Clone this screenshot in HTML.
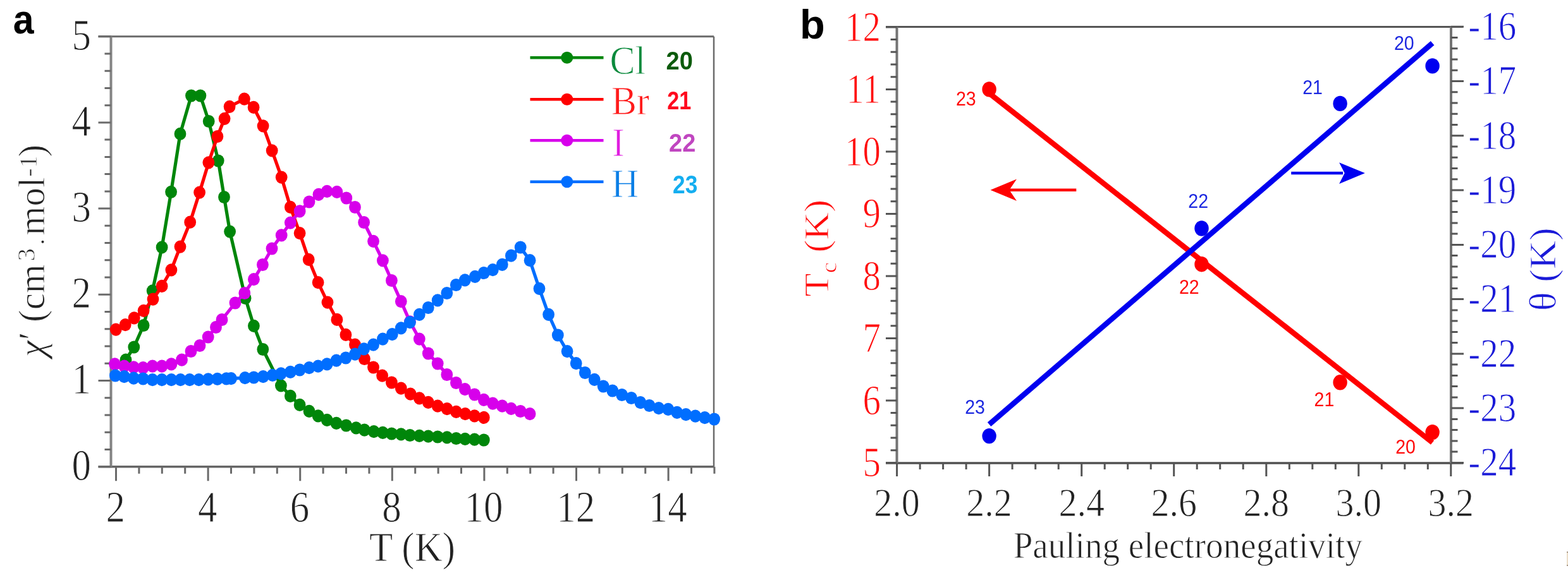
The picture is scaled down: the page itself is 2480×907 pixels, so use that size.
<!DOCTYPE html>
<html><head><meta charset="utf-8"><title>Figure</title>
<style>
html,body{margin:0;padding:0;background:#fff;}
body{width:2480px;height:907px;overflow:hidden;}
svg{display:block;}
#w{width:2480px;height:907px;}
.serif{font-family:"Liberation Serif","Times New Roman",serif;stroke:#fff;stroke-width:0.9px;}
.sans{font-family:"Liberation Sans",Arial,sans-serif;}
</style></head><body>
<div id="w"><svg width="2480" height="907" viewBox="0 0 2480 907">
<rect width="2480" height="907" fill="#fff"/>

<path d="M1129 57.7V738.7" stroke="#6a6a6a" stroke-width="2.5"/>
<path d="M155.5 57.7H1129" stroke="#6a6a6a" stroke-width="3"/>
<path d="M155.5 738.7H1129" stroke="#666" stroke-width="3.5"/>
<path d="M175.5 57.7V738.7" stroke="#848484" stroke-width="4"/>
<path d="M155.5 738.7H175.5 M165.5 711.5H175.5 M165.5 684.2H175.5 M165.5 657H175.5 M165.5 629.7H175.5 M155.5 602.5H175.5 M165.5 575.3H175.5 M165.5 548H175.5 M165.5 520.8H175.5 M165.5 493.5H175.5 M155.5 466.3H175.5 M165.5 439.1H175.5 M165.5 411.8H175.5 M165.5 384.6H175.5 M165.5 357.3H175.5 M155.5 330.1H175.5 M165.5 302.9H175.5 M165.5 275.6H175.5 M165.5 248.4H175.5 M165.5 221.1H175.5 M155.5 193.9H175.5 M165.5 166.7H175.5 M165.5 139.4H175.5 M165.5 112.2H175.5 M165.5 84.9H175.5 M155.5 57.7H175.5 M183.5 738.7V761.2 M219.9 738.7V749.7 M256.3 738.7V749.7 M292.7 738.7V749.7 M329.1 738.7V761.2 M365.5 738.7V749.7 M401.9 738.7V749.7 M438.3 738.7V749.7 M474.7 738.7V761.2 M511.1 738.7V749.7 M547.5 738.7V749.7 M583.9 738.7V749.7 M620.3 738.7V761.2 M656.7 738.7V749.7 M693.1 738.7V749.7 M729.5 738.7V749.7 M765.9 738.7V761.2 M802.3 738.7V749.7 M838.7 738.7V749.7 M875.1 738.7V749.7 M911.5 738.7V761.2 M947.9 738.7V749.7 M984.3 738.7V749.7 M1020.7 738.7V749.7 M1057.1 738.7V761.2 M1093.5 738.7V749.7 M1129.9 738.7V749.7" stroke="#6a6a6a" stroke-width="3"/>
<text class="serif" transform="translate(144 759.5) scale(1.0 1.13)" font-size="61" fill="#222" text-anchor="end">0</text>
<text class="serif" transform="translate(144 623.3) scale(1.0 1.13)" font-size="61" fill="#222" text-anchor="end">1</text>
<text class="serif" transform="translate(144 487.1) scale(1.0 1.13)" font-size="61" fill="#222" text-anchor="end">2</text>
<text class="serif" transform="translate(144 350.9) scale(1.0 1.13)" font-size="61" fill="#222" text-anchor="end">3</text>
<text class="serif" transform="translate(144 214.7) scale(1.0 1.13)" font-size="61" fill="#222" text-anchor="end">4</text>
<text class="serif" transform="translate(144 78.5) scale(1.0 1.13)" font-size="61" fill="#222" text-anchor="end">5</text>
<text class="serif" transform="translate(182.7 826) scale(1.0 1.13)" font-size="61" fill="#222" text-anchor="middle">2</text>
<text class="serif" transform="translate(328.3 826) scale(1.0 1.13)" font-size="61" fill="#222" text-anchor="middle">4</text>
<text class="serif" transform="translate(473.9 826) scale(1.0 1.13)" font-size="61" fill="#222" text-anchor="middle">6</text>
<text class="serif" transform="translate(619.5 826) scale(1.0 1.13)" font-size="61" fill="#222" text-anchor="middle">8</text>
<text class="serif" transform="translate(765.1 826) scale(1.0 1.13)" font-size="61" fill="#222" text-anchor="middle">10</text>
<text class="serif" transform="translate(910.7 826) scale(1.0 1.13)" font-size="61" fill="#222" text-anchor="middle">12</text>
<text class="serif" transform="translate(1056.3 826) scale(1.0 1.13)" font-size="61" fill="#222" text-anchor="middle">14</text>
<text class="serif" transform="translate(652 888) scale(1.0 1.08)" font-size="61" fill="#222" text-anchor="middle">T (K)</text>
<text class="serif" transform="translate(69.7 565) rotate(-90)" font-size="59" fill="#222" font-style="italic">&#967;</text>
<text class="serif" transform="translate(69.7 538) rotate(-90)" font-size="59" fill="#222">&#8242;</text>
<text class="serif" transform="translate(69.7 510) rotate(-90)" font-size="59" fill="#222">(cm</text>
<text class="serif" transform="translate(55 413.5) rotate(-90)" font-size="41" fill="#222">3</text>
<text class="serif" transform="translate(69.7 388) rotate(-90)" font-size="42" fill="#222">.</text>
<text class="serif" transform="translate(69.7 372.5) rotate(-90)" font-size="59" fill="#222">mol</text>
<text class="serif" transform="translate(57.5 280) rotate(-90)" font-size="41" fill="#222">-1</text>
<text class="serif" transform="translate(69.7 248.5) rotate(-90)" font-size="59" fill="#222">)</text>
<text class="sans" transform="translate(20.8 52.8) scale(1.0 1.11)" font-size="59" fill="#000" font-weight="bold">a</text>
<path d="M199 569.7 L211.8 549.5 L227.1 515 L241.2 460.4 L256.1 391.4 L270.6 303.8 L285 211.9 L302.5 151.5 L316.9 151.5 L330.2 192 L345.2 254.5 L354.5 312 L363.6 366.6 L388.1 472 L401.4 515.8 L415.8 553 L444.4 610.3 L459.3 626.8 L474.1 640.9 L489 650.8 L503.1 658.3 L517.2 664.9 L532 669.9 L547.5 673.5 L563.2 677.4 L576.4 680.7 L591.3 683.2 L605.4 684.9 L619.4 686.5 L634.3 687.3 L648.4 689 L663.3 689.8 L677.3 690.6 L692.2 691.5 L707 692.3 L721.5 694 L735.6 694.8 L750.5 695.6 L765.3 696.5" fill="none" stroke="#00860a" stroke-width="5.2" stroke-linejoin="round"/>
<g fill="#00860a"><ellipse cx="199" cy="569.7" rx="9.4" ry="10.1"/><ellipse cx="211.8" cy="549.5" rx="9.4" ry="10.1"/><ellipse cx="227.1" cy="515" rx="9.4" ry="10.1"/><ellipse cx="241.2" cy="460.4" rx="9.4" ry="10.1"/><ellipse cx="256.1" cy="391.4" rx="9.4" ry="10.1"/><ellipse cx="270.6" cy="303.8" rx="9.4" ry="10.1"/><ellipse cx="285" cy="211.9" rx="9.4" ry="10.1"/><ellipse cx="302.5" cy="151.5" rx="9.4" ry="10.1"/><ellipse cx="316.9" cy="151.5" rx="9.4" ry="10.1"/><ellipse cx="330.2" cy="192" rx="9.4" ry="10.1"/><ellipse cx="345.2" cy="254.5" rx="9.4" ry="10.1"/><ellipse cx="354.5" cy="312" rx="9.4" ry="10.1"/><ellipse cx="363.6" cy="366.6" rx="9.4" ry="10.1"/><ellipse cx="388.1" cy="472" rx="9.4" ry="10.1"/><ellipse cx="401.4" cy="515.8" rx="9.4" ry="10.1"/><ellipse cx="415.8" cy="553" rx="9.4" ry="10.1"/><ellipse cx="444.4" cy="610.3" rx="9.4" ry="10.1"/><ellipse cx="459.3" cy="626.8" rx="9.4" ry="10.1"/><ellipse cx="474.1" cy="640.9" rx="9.4" ry="10.1"/><ellipse cx="489" cy="650.8" rx="9.4" ry="10.1"/><ellipse cx="503.1" cy="658.3" rx="9.4" ry="10.1"/><ellipse cx="517.2" cy="664.9" rx="9.4" ry="10.1"/><ellipse cx="532" cy="669.9" rx="9.4" ry="10.1"/><ellipse cx="547.5" cy="673.5" rx="9.4" ry="10.1"/><ellipse cx="563.2" cy="677.4" rx="9.4" ry="10.1"/><ellipse cx="576.4" cy="680.7" rx="9.4" ry="10.1"/><ellipse cx="591.3" cy="683.2" rx="9.4" ry="10.1"/><ellipse cx="605.4" cy="684.9" rx="9.4" ry="10.1"/><ellipse cx="619.4" cy="686.5" rx="9.4" ry="10.1"/><ellipse cx="634.3" cy="687.3" rx="9.4" ry="10.1"/><ellipse cx="648.4" cy="689" rx="9.4" ry="10.1"/><ellipse cx="663.3" cy="689.8" rx="9.4" ry="10.1"/><ellipse cx="677.3" cy="690.6" rx="9.4" ry="10.1"/><ellipse cx="692.2" cy="691.5" rx="9.4" ry="10.1"/><ellipse cx="707" cy="692.3" rx="9.4" ry="10.1"/><ellipse cx="721.5" cy="694" rx="9.4" ry="10.1"/><ellipse cx="735.6" cy="694.8" rx="9.4" ry="10.1"/><ellipse cx="750.5" cy="695.6" rx="9.4" ry="10.1"/><ellipse cx="765.3" cy="696.5" rx="9.4" ry="10.1"/></g>
<path d="M183.3 521.6 L198.2 514.1 L212.2 503.4 L227.1 491.8 L242 473.6 L256.1 452.9 L270.9 427.3 L285 390.6 L300.7 351.7 L315.6 304.6 L329.9 257.4 L343.9 216 L355.1 187.8 L363.1 168.8 L386.4 156.7 L401.1 169.9 L416.1 199.3 L430.2 238.4 L445.2 280.6 L459.3 327.8 L474.1 369.1 L488.2 410.8 L503.1 447.1 L518 478.6 L532.9 505.9 L546.9 529.9 L561.5 545.7 L576.4 568 L590.5 581.5 L604.6 594.7 L619.4 605.5 L634.3 614.6 L649.2 623.7 L663.3 630.3 L677.3 636.9 L692.2 642.7 L707 647.2 L721.5 651.8 L735.8 655.1 L750.5 658.4 L765.3 660.9" fill="none" stroke="#ff0000" stroke-width="5.2" stroke-linejoin="round"/>
<g fill="#ff0000"><ellipse cx="183.3" cy="521.6" rx="9.4" ry="10.1"/><ellipse cx="198.2" cy="514.1" rx="9.4" ry="10.1"/><ellipse cx="212.2" cy="503.4" rx="9.4" ry="10.1"/><ellipse cx="227.1" cy="491.8" rx="9.4" ry="10.1"/><ellipse cx="242" cy="473.6" rx="9.4" ry="10.1"/><ellipse cx="256.1" cy="452.9" rx="9.4" ry="10.1"/><ellipse cx="270.9" cy="427.3" rx="9.4" ry="10.1"/><ellipse cx="285" cy="390.6" rx="9.4" ry="10.1"/><ellipse cx="300.7" cy="351.7" rx="9.4" ry="10.1"/><ellipse cx="315.6" cy="304.6" rx="9.4" ry="10.1"/><ellipse cx="329.9" cy="257.4" rx="9.4" ry="10.1"/><ellipse cx="343.9" cy="216" rx="9.4" ry="10.1"/><ellipse cx="355.1" cy="187.8" rx="9.4" ry="10.1"/><ellipse cx="363.1" cy="168.8" rx="9.4" ry="10.1"/><ellipse cx="386.4" cy="156.7" rx="9.4" ry="10.1"/><ellipse cx="401.1" cy="169.9" rx="9.4" ry="10.1"/><ellipse cx="416.1" cy="199.3" rx="9.4" ry="10.1"/><ellipse cx="430.2" cy="238.4" rx="9.4" ry="10.1"/><ellipse cx="445.2" cy="280.6" rx="9.4" ry="10.1"/><ellipse cx="459.3" cy="327.8" rx="9.4" ry="10.1"/><ellipse cx="474.1" cy="369.1" rx="9.4" ry="10.1"/><ellipse cx="488.2" cy="410.8" rx="9.4" ry="10.1"/><ellipse cx="503.1" cy="447.1" rx="9.4" ry="10.1"/><ellipse cx="518" cy="478.6" rx="9.4" ry="10.1"/><ellipse cx="532.9" cy="505.9" rx="9.4" ry="10.1"/><ellipse cx="546.9" cy="529.9" rx="9.4" ry="10.1"/><ellipse cx="561.5" cy="545.7" rx="9.4" ry="10.1"/><ellipse cx="576.4" cy="568" rx="9.4" ry="10.1"/><ellipse cx="590.5" cy="581.5" rx="9.4" ry="10.1"/><ellipse cx="604.6" cy="594.7" rx="9.4" ry="10.1"/><ellipse cx="619.4" cy="605.5" rx="9.4" ry="10.1"/><ellipse cx="634.3" cy="614.6" rx="9.4" ry="10.1"/><ellipse cx="649.2" cy="623.7" rx="9.4" ry="10.1"/><ellipse cx="663.3" cy="630.3" rx="9.4" ry="10.1"/><ellipse cx="677.3" cy="636.9" rx="9.4" ry="10.1"/><ellipse cx="692.2" cy="642.7" rx="9.4" ry="10.1"/><ellipse cx="707" cy="647.2" rx="9.4" ry="10.1"/><ellipse cx="721.5" cy="651.8" rx="9.4" ry="10.1"/><ellipse cx="735.8" cy="655.1" rx="9.4" ry="10.1"/><ellipse cx="750.5" cy="658.4" rx="9.4" ry="10.1"/><ellipse cx="765.3" cy="660.9" rx="9.4" ry="10.1"/></g>
<path d="M181.6 576.3 L196.5 579.6 L211.4 581.3 L226.3 582.1 L241.2 579.6 L256.1 579.6 L271 576.3 L287.5 569.7 L302 556 L316 547 L329.2 533.5 L341.5 518 L351 506 L372 479.5 L386.8 464 L401.4 442.2 L415.4 419 L430 393.5 L445.2 372.4 L459.3 352.6 L474.1 334.4 L489 319.5 L503.9 307.9 L517.2 302.9 L532.9 303.8 L547.8 313.5 L561.5 328 L575.6 352 L590.5 381.8 L605.4 412.4 L619.4 444 L634.3 477.1 L648.4 509.3 L663.3 536.6 L677.3 559.5 L692.2 575.5 L706.8 593 L721.4 606 L735.4 616.2 L750.5 624.5 L765.3 632.8 L779.4 638.6 L794.3 642.7 L808.4 646.8 L823.2 651 L838.1 655.1" fill="none" stroke="#d700eb" stroke-width="5.2" stroke-linejoin="round"/>
<g fill="#d700eb"><ellipse cx="181.6" cy="576.3" rx="9.4" ry="10.1"/><ellipse cx="196.5" cy="579.6" rx="9.4" ry="10.1"/><ellipse cx="211.4" cy="581.3" rx="9.4" ry="10.1"/><ellipse cx="226.3" cy="582.1" rx="9.4" ry="10.1"/><ellipse cx="241.2" cy="579.6" rx="9.4" ry="10.1"/><ellipse cx="256.1" cy="579.6" rx="9.4" ry="10.1"/><ellipse cx="271" cy="576.3" rx="9.4" ry="10.1"/><ellipse cx="287.5" cy="569.7" rx="9.4" ry="10.1"/><ellipse cx="302" cy="556" rx="9.4" ry="10.1"/><ellipse cx="316" cy="547" rx="9.4" ry="10.1"/><ellipse cx="329.2" cy="533.5" rx="9.4" ry="10.1"/><ellipse cx="341.5" cy="518" rx="9.4" ry="10.1"/><ellipse cx="351" cy="506" rx="9.4" ry="10.1"/><ellipse cx="372" cy="479.5" rx="9.4" ry="10.1"/><ellipse cx="386.8" cy="464" rx="9.4" ry="10.1"/><ellipse cx="401.4" cy="442.2" rx="9.4" ry="10.1"/><ellipse cx="415.4" cy="419" rx="9.4" ry="10.1"/><ellipse cx="430" cy="393.5" rx="9.4" ry="10.1"/><ellipse cx="445.2" cy="372.4" rx="9.4" ry="10.1"/><ellipse cx="459.3" cy="352.6" rx="9.4" ry="10.1"/><ellipse cx="474.1" cy="334.4" rx="9.4" ry="10.1"/><ellipse cx="489" cy="319.5" rx="9.4" ry="10.1"/><ellipse cx="503.9" cy="307.9" rx="9.4" ry="10.1"/><ellipse cx="517.2" cy="302.9" rx="9.4" ry="10.1"/><ellipse cx="532.9" cy="303.8" rx="9.4" ry="10.1"/><ellipse cx="547.8" cy="313.5" rx="9.4" ry="10.1"/><ellipse cx="561.5" cy="328" rx="9.4" ry="10.1"/><ellipse cx="575.6" cy="352" rx="9.4" ry="10.1"/><ellipse cx="590.5" cy="381.8" rx="9.4" ry="10.1"/><ellipse cx="605.4" cy="412.4" rx="9.4" ry="10.1"/><ellipse cx="619.4" cy="444" rx="9.4" ry="10.1"/><ellipse cx="634.3" cy="477.1" rx="9.4" ry="10.1"/><ellipse cx="648.4" cy="509.3" rx="9.4" ry="10.1"/><ellipse cx="663.3" cy="536.6" rx="9.4" ry="10.1"/><ellipse cx="677.3" cy="559.5" rx="9.4" ry="10.1"/><ellipse cx="692.2" cy="575.5" rx="9.4" ry="10.1"/><ellipse cx="706.8" cy="593" rx="9.4" ry="10.1"/><ellipse cx="721.4" cy="606" rx="9.4" ry="10.1"/><ellipse cx="735.4" cy="616.2" rx="9.4" ry="10.1"/><ellipse cx="750.5" cy="624.5" rx="9.4" ry="10.1"/><ellipse cx="765.3" cy="632.8" rx="9.4" ry="10.1"/><ellipse cx="779.4" cy="638.6" rx="9.4" ry="10.1"/><ellipse cx="794.3" cy="642.7" rx="9.4" ry="10.1"/><ellipse cx="808.4" cy="646.8" rx="9.4" ry="10.1"/><ellipse cx="823.2" cy="651" rx="9.4" ry="10.1"/><ellipse cx="838.1" cy="655.1" rx="9.4" ry="10.1"/></g>
<path d="M182.4 594.5 L196.5 596.2 L211.4 598.7 L226.3 599.5 L241.2 601.1 L256.1 601.1 L271 601.1 L285.5 601.1 L300 601.1 L314.5 601.1 L329.3 600.4 L343.8 599.8 L358 599.4 L365.5 599.1 L387.5 598.2 L401.4 597.5 L416.2 596.2 L431.1 593.8 L444.4 591.3 L459.3 588.8 L474.1 585.5 L489 582.2 L503.1 579.7 L517.2 576.4 L532 570.6 L546.9 566.5 L561.5 560.6 L575.6 552.3 L590.5 545.7 L605.4 536.6 L620.3 529.2 L634.3 519.3 L648.4 510.2 L663.3 497.8 L677.3 487 L692.2 475.4 L706.8 464 L721.3 451 L735.4 443.4 L751.3 437.8 L765.3 432 L779.4 427.1 L794.3 418.8 L808.4 404.7 L823.2 391.5 L838.1 412.2 L853 456.8 L867.6 497.8 L882.3 530.5 L897.1 556.1 L911.2 575.1 L925.3 590 L940.2 600.8 L954.2 611.5 L968.7 618.5 L983.6 625 L998.5 630 L1012.9 637.1 L1027 642 L1041.9 646.2 L1056.8 647.8 L1070.8 652.8 L1084.9 656.1 L1099.8 658.6 L1114.7 661.1 L1129.6 663.5" fill="none" stroke="#006eff" stroke-width="5.2" stroke-linejoin="round"/>
<g fill="#006eff"><ellipse cx="182.4" cy="594.5" rx="9.4" ry="10.1"/><ellipse cx="196.5" cy="596.2" rx="9.4" ry="10.1"/><ellipse cx="211.4" cy="598.7" rx="9.4" ry="10.1"/><ellipse cx="226.3" cy="599.5" rx="9.4" ry="10.1"/><ellipse cx="241.2" cy="601.1" rx="9.4" ry="10.1"/><ellipse cx="256.1" cy="601.1" rx="9.4" ry="10.1"/><ellipse cx="271" cy="601.1" rx="9.4" ry="10.1"/><ellipse cx="285.5" cy="601.1" rx="9.4" ry="10.1"/><ellipse cx="300" cy="601.1" rx="9.4" ry="10.1"/><ellipse cx="314.5" cy="601.1" rx="9.4" ry="10.1"/><ellipse cx="329.3" cy="600.4" rx="9.4" ry="10.1"/><ellipse cx="343.8" cy="599.8" rx="9.4" ry="10.1"/><ellipse cx="358" cy="599.4" rx="9.4" ry="10.1"/><ellipse cx="365.5" cy="599.1" rx="9.4" ry="10.1"/><ellipse cx="387.5" cy="598.2" rx="9.4" ry="10.1"/><ellipse cx="401.4" cy="597.5" rx="9.4" ry="10.1"/><ellipse cx="416.2" cy="596.2" rx="9.4" ry="10.1"/><ellipse cx="431.1" cy="593.8" rx="9.4" ry="10.1"/><ellipse cx="444.4" cy="591.3" rx="9.4" ry="10.1"/><ellipse cx="459.3" cy="588.8" rx="9.4" ry="10.1"/><ellipse cx="474.1" cy="585.5" rx="9.4" ry="10.1"/><ellipse cx="489" cy="582.2" rx="9.4" ry="10.1"/><ellipse cx="503.1" cy="579.7" rx="9.4" ry="10.1"/><ellipse cx="517.2" cy="576.4" rx="9.4" ry="10.1"/><ellipse cx="532" cy="570.6" rx="9.4" ry="10.1"/><ellipse cx="546.9" cy="566.5" rx="9.4" ry="10.1"/><ellipse cx="561.5" cy="560.6" rx="9.4" ry="10.1"/><ellipse cx="575.6" cy="552.3" rx="9.4" ry="10.1"/><ellipse cx="590.5" cy="545.7" rx="9.4" ry="10.1"/><ellipse cx="605.4" cy="536.6" rx="9.4" ry="10.1"/><ellipse cx="620.3" cy="529.2" rx="9.4" ry="10.1"/><ellipse cx="634.3" cy="519.3" rx="9.4" ry="10.1"/><ellipse cx="648.4" cy="510.2" rx="9.4" ry="10.1"/><ellipse cx="663.3" cy="497.8" rx="9.4" ry="10.1"/><ellipse cx="677.3" cy="487" rx="9.4" ry="10.1"/><ellipse cx="692.2" cy="475.4" rx="9.4" ry="10.1"/><ellipse cx="706.8" cy="464" rx="9.4" ry="10.1"/><ellipse cx="721.3" cy="451" rx="9.4" ry="10.1"/><ellipse cx="735.4" cy="443.4" rx="9.4" ry="10.1"/><ellipse cx="751.3" cy="437.8" rx="9.4" ry="10.1"/><ellipse cx="765.3" cy="432" rx="9.4" ry="10.1"/><ellipse cx="779.4" cy="427.1" rx="9.4" ry="10.1"/><ellipse cx="794.3" cy="418.8" rx="9.4" ry="10.1"/><ellipse cx="808.4" cy="404.7" rx="9.4" ry="10.1"/><ellipse cx="823.2" cy="391.5" rx="9.4" ry="10.1"/><ellipse cx="838.1" cy="412.2" rx="9.4" ry="10.1"/><ellipse cx="853" cy="456.8" rx="9.4" ry="10.1"/><ellipse cx="867.6" cy="497.8" rx="9.4" ry="10.1"/><ellipse cx="882.3" cy="530.5" rx="9.4" ry="10.1"/><ellipse cx="897.1" cy="556.1" rx="9.4" ry="10.1"/><ellipse cx="911.2" cy="575.1" rx="9.4" ry="10.1"/><ellipse cx="925.3" cy="590" rx="9.4" ry="10.1"/><ellipse cx="940.2" cy="600.8" rx="9.4" ry="10.1"/><ellipse cx="954.2" cy="611.5" rx="9.4" ry="10.1"/><ellipse cx="968.7" cy="618.5" rx="9.4" ry="10.1"/><ellipse cx="983.6" cy="625" rx="9.4" ry="10.1"/><ellipse cx="998.5" cy="630" rx="9.4" ry="10.1"/><ellipse cx="1012.9" cy="637.1" rx="9.4" ry="10.1"/><ellipse cx="1027" cy="642" rx="9.4" ry="10.1"/><ellipse cx="1041.9" cy="646.2" rx="9.4" ry="10.1"/><ellipse cx="1056.8" cy="647.8" rx="9.4" ry="10.1"/><ellipse cx="1070.8" cy="652.8" rx="9.4" ry="10.1"/><ellipse cx="1084.9" cy="656.1" rx="9.4" ry="10.1"/><ellipse cx="1099.8" cy="658.6" rx="9.4" ry="10.1"/><ellipse cx="1114.7" cy="661.1" rx="9.4" ry="10.1"/><ellipse cx="1129.6" cy="663.5" rx="9.4" ry="10.1"/></g>
<path d="M838.5 91.3H954.5" stroke="#00860a" stroke-width="4.5"/>
<circle cx="896.8" cy="91.3" r="9.5" fill="#00860a"/>
<text class="serif" transform="translate(964.5 116.8) scale(1.0 1.07)" font-size="60" fill="#0a8a3c">Cl</text>
<text class="sans" transform="translate(1053.5 109.8) scale(1.0 1.05)" font-size="38" fill="#0b5a0b" font-weight="bold">20</text>
<path d="M838.5 157.3H954.5" stroke="#ff0000" stroke-width="4.5"/>
<circle cx="896.8" cy="157.3" r="9.5" fill="#ff0000"/>
<text class="serif" transform="translate(967 180.5) scale(1.0 1.07)" font-size="60" fill="#ff1a1a">Br</text>
<text class="sans" transform="translate(1055.3 172.5) scale(0.9 1.05)" font-size="38" fill="#ff0a1e" font-weight="bold">21</text>
<path d="M838.5 222.3H954.5" stroke="#d700eb" stroke-width="4.5"/>
<circle cx="896.8" cy="222.3" r="9.5" fill="#d700eb"/>
<text class="serif" transform="translate(968 247) scale(1.0 1.07)" font-size="60" fill="#e01ee0">I</text>
<text class="sans" transform="translate(1058.1 240) scale(1.0 1.05)" font-size="38" fill="#c046c0" font-weight="bold">22</text>
<path d="M838.5 287.7H954.5" stroke="#006eff" stroke-width="4.5"/>
<circle cx="896.8" cy="287.7" r="9.5" fill="#006eff"/>
<text class="serif" transform="translate(967 311.5) scale(1.0 1.07)" font-size="60" fill="#0a7ee6">H</text>
<text class="sans" transform="translate(1064 305.5) scale(0.93 1.05)" font-size="38" fill="#14aef0" font-weight="bold">23</text>
<path d="M1401 42.6H2313.5" stroke="#555" stroke-width="3"/>
<path d="M1401 733H2314.5" stroke="#505050" stroke-width="3.5"/>
<path d="M1418.5 42.6V733 M2295 42.6V733" stroke="#747474" stroke-width="4"/>
<path d="M1401 732.4H1418.5 M1408.6 712.7H1418.5 M1408.6 693H1418.5 M1408.6 673.3H1418.5 M1408.6 653.6H1418.5 M1401 633.9H1418.5 M1408.6 614.2H1418.5 M1408.6 594.5H1418.5 M1408.6 574.8H1418.5 M1408.6 555.1H1418.5 M1401 535.4H1418.5 M1408.6 515.7H1418.5 M1408.6 496H1418.5 M1408.6 476.3H1418.5 M1408.6 456.6H1418.5 M1401 436.9H1418.5 M1408.6 417.2H1418.5 M1408.6 397.5H1418.5 M1408.6 377.8H1418.5 M1408.6 358.1H1418.5 M1401 338.4H1418.5 M1408.6 318.7H1418.5 M1408.6 299H1418.5 M1408.6 279.3H1418.5 M1408.6 259.6H1418.5 M1401 239.9H1418.5 M1408.6 220.2H1418.5 M1408.6 200.5H1418.5 M1408.6 180.8H1418.5 M1408.6 161.1H1418.5 M1401 141.4H1418.5 M1408.6 121.7H1418.5 M1408.6 102H1418.5 M1408.6 82.3H1418.5 M1408.6 62.6H1418.5 M1401 42.9H1418.5 M2295 732.4H2315 M2295 715.1H2305.5 M2295 697.9H2305.5 M2295 680.6H2305.5 M2295 663.4H2305.5 M2295 646.1H2315 M2295 628.9H2305.5 M2295 611.6H2305.5 M2295 594.4H2305.5 M2295 577.1H2305.5 M2295 559.9H2315 M2295 542.6H2305.5 M2295 525.4H2305.5 M2295 508.1H2305.5 M2295 490.9H2305.5 M2295 473.6H2315 M2295 456.4H2305.5 M2295 439.1H2305.5 M2295 421.9H2305.5 M2295 404.6H2305.5 M2295 387.4H2315 M2295 370.1H2305.5 M2295 352.9H2305.5 M2295 335.6H2305.5 M2295 318.4H2305.5 M2295 301.1H2315 M2295 283.8H2305.5 M2295 266.6H2305.5 M2295 249.3H2305.5 M2295 232.1H2305.5 M2295 214.8H2315 M2295 197.6H2305.5 M2295 180.3H2305.5 M2295 163.1H2305.5 M2295 145.8H2305.5 M2295 128.6H2315 M2295 111.3H2305.5 M2295 94.1H2305.5 M2295 76.8H2305.5 M2295 59.6H2305.5 M2295 42.3H2315 M1418.6 733V754 M1455.1 733V743 M1491.6 733V743 M1528.1 733V743 M1564.6 733V754 M1601.1 733V743 M1637.7 733V743 M1674.2 733V743 M1710.7 733V754 M1747.2 733V743 M1783.7 733V743 M1820.2 733V743 M1856.7 733V754 M1893.2 733V743 M1929.7 733V743 M1966.2 733V743 M2002.8 733V754 M2039.3 733V743 M2075.8 733V743 M2112.3 733V743 M2148.8 733V754 M2185.3 733V743 M2221.8 733V743 M2258.3 733V743 M2294.8 733V754" stroke="#555" stroke-width="3"/>
<text class="serif" transform="translate(1393 754.4) scale(1.0 1.19)" font-size="57" fill="#ff0a0a" text-anchor="end">5</text>
<text class="serif" transform="translate(1393 655.9) scale(1.0 1.19)" font-size="57" fill="#ff0a0a" text-anchor="end">6</text>
<text class="serif" transform="translate(1393 557.4) scale(1.0 1.19)" font-size="57" fill="#ff0a0a" text-anchor="end">7</text>
<text class="serif" transform="translate(1393 458.9) scale(1.0 1.19)" font-size="57" fill="#ff0a0a" text-anchor="end">8</text>
<text class="serif" transform="translate(1393 360.4) scale(1.0 1.19)" font-size="57" fill="#ff0a0a" text-anchor="end">9</text>
<text class="serif" transform="translate(1393 261.9) scale(1.0 1.19)" font-size="57" fill="#ff0a0a" text-anchor="end">10</text>
<text class="serif" transform="translate(1393 163.4) scale(1.0 1.19)" font-size="57" fill="#ff0a0a" text-anchor="end">11</text>
<text class="serif" transform="translate(1393 64.9) scale(1.0 1.19)" font-size="57" fill="#ff0a0a" text-anchor="end">12</text>
<text class="serif" transform="translate(2322.3 753.2) scale(1.0 1.14)" font-size="57" fill="#1a1ad8">-24</text>
<text class="serif" transform="translate(2322.3 666.9) scale(1.0 1.14)" font-size="57" fill="#1a1ad8">-23</text>
<text class="serif" transform="translate(2322.3 580.7) scale(1.0 1.14)" font-size="57" fill="#1a1ad8">-22</text>
<text class="serif" transform="translate(2322.3 494.4) scale(1.0 1.14)" font-size="57" fill="#1a1ad8">-21</text>
<text class="serif" transform="translate(2322.3 408.2) scale(1.0 1.14)" font-size="57" fill="#1a1ad8">-20</text>
<text class="serif" transform="translate(2322.3 321.9) scale(1.0 1.14)" font-size="57" fill="#1a1ad8">-19</text>
<text class="serif" transform="translate(2322.3 235.6) scale(1.0 1.14)" font-size="57" fill="#1a1ad8">-18</text>
<text class="serif" transform="translate(2322.3 149.4) scale(1.0 1.14)" font-size="57" fill="#1a1ad8">-17</text>
<text class="serif" transform="translate(2322.3 63.1) scale(1.0 1.14)" font-size="57" fill="#1a1ad8">-16</text>
<text class="serif" transform="translate(1418.6 816.5) scale(1.0 1.1)" font-size="58" fill="#222" text-anchor="middle">2.0</text>
<text class="serif" transform="translate(1564.6 816.5) scale(1.0 1.1)" font-size="58" fill="#222" text-anchor="middle">2.2</text>
<text class="serif" transform="translate(1710.7 816.5) scale(1.0 1.1)" font-size="58" fill="#222" text-anchor="middle">2.4</text>
<text class="serif" transform="translate(1856.7 816.5) scale(1.0 1.1)" font-size="58" fill="#222" text-anchor="middle">2.6</text>
<text class="serif" transform="translate(2002.8 816.5) scale(1.0 1.1)" font-size="58" fill="#222" text-anchor="middle">2.8</text>
<text class="serif" transform="translate(2148.8 816.5) scale(1.0 1.1)" font-size="58" fill="#222" text-anchor="middle">3.0</text>
<text class="serif" transform="translate(2294.8 816.5) scale(1.0 1.1)" font-size="58" fill="#222" text-anchor="middle">3.2</text>
<text class="serif" transform="translate(1878.8 882.5) scale(1.0 1.06)" font-size="55.1" fill="#222" text-anchor="middle">Pauling electronegativity</text>
<text class="serif" font-size="55" fill="#ff0a0a" transform="translate(1309.5 392.7) rotate(-90) scale(1.1 1)" text-anchor="middle">T<tspan font-size="36" dy="13">c</tspan><tspan dy="-13"> (K)</tspan></text>
<text class="serif" font-size="59.6" fill="#1a1ad8" transform="translate(2459.7 426.3) rotate(-90) scale(1.046 1)" text-anchor="middle">&#952; (K)</text>
<text class="sans" x="1265" y="61.2" font-size="65" fill="#000" font-weight="bold">b</text>
<path d="M1564.6 147.7L2265.6 700.5" stroke="#ff0000" stroke-width="8.5"/>
<path d="M1564.6 671.8L2265.6 68.2" stroke="#0000f0" stroke-width="8.5"/>
<ellipse cx="1564.6" cy="141.4" rx="11.2" ry="12.2" fill="#ff0000"/>
<ellipse cx="1900.5" cy="418.2" rx="11.2" ry="12.2" fill="#ff0000"/>
<ellipse cx="2119.6" cy="605.3" rx="11.2" ry="12.2" fill="#ff0000"/>
<ellipse cx="2265.6" cy="684.1" rx="11.2" ry="12.2" fill="#ff0000"/>
<ellipse cx="1564.6" cy="690.1" rx="11.2" ry="12.2" fill="#0000f0"/>
<ellipse cx="1900.5" cy="361.5" rx="11.2" ry="12.2" fill="#0000f0"/>
<ellipse cx="2119.6" cy="163.9" rx="11.2" ry="12.2" fill="#0000f0"/>
<ellipse cx="2265.6" cy="104.4" rx="11.2" ry="12.2" fill="#0000f0"/>
<text class="sans" transform="translate(1512 167) scale(0.92 1.04)" font-size="31" fill="#ff0a0a">23</text>
<text class="sans" transform="translate(1865 465.2) scale(0.92 1.04)" font-size="31" fill="#ff0a0a">22</text>
<text class="sans" transform="translate(2078.6 642.5) scale(0.92 1.04)" font-size="31" fill="#ff0a0a">21</text>
<text class="sans" transform="translate(2207.2 717.7) scale(0.92 1.04)" font-size="31" fill="#ff0a0a">20</text>
<text class="sans" transform="translate(1526.2 654.8) scale(0.92 1.04)" font-size="31" fill="#1c28e0">23</text>
<text class="sans" transform="translate(1879.3 329) scale(0.92 1.04)" font-size="31" fill="#1c28e0">22</text>
<text class="sans" transform="translate(2060.2 149.1) scale(0.92 1.04)" font-size="31" fill="#1c28e0">21</text>
<text class="sans" transform="translate(2205 79.4) scale(0.92 1.04)" font-size="31" fill="#1c28e0">20</text>
<path d="M1595 300.8H1702.3" stroke="#ff0000" stroke-width="4.5"/>
<path d="M1566.5 300.8L1608 283.5L1596.4 300.8L1608 318Z" fill="#ff0000"/>
<path d="M2042.2 273.9H2124" stroke="#0000f0" stroke-width="4.5"/>
<path d="M2158.9 273.9L2118.1 257.3L2126.7 273.9L2118.1 291.1Z" fill="#0000f0"/>
<rect x="2478" y="873" width="2" height="23" fill="#eadcc8"/><rect x="2478" y="873" width="2" height="2" fill="#a89888"/><rect x="2478" y="894" width="2" height="2" fill="#a89888"/>
</svg></div>
</body></html>
